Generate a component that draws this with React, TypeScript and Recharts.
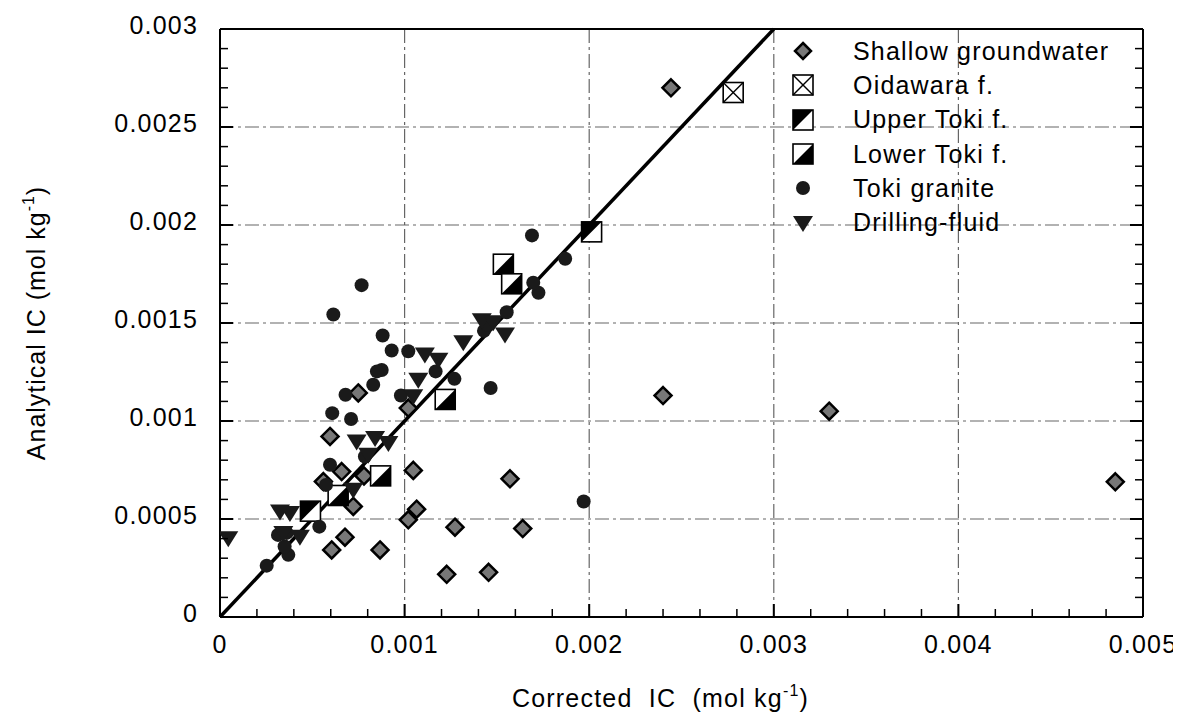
import React from 'react';
import { ScatterChart, Scatter, XAxis, YAxis, CartesianGrid, ReferenceLine, Legend } from 'recharts';

// ---------- data ----------
const seriesNames = [
  'Shallow groundwater',
  'Oidawara f.',
  'Upper Toki f.',
  'Lower Toki f.',
  'Toki granite',
  'Drilling-fluid',
];

const shallowGroundwater = [
  { x: 0.000749, y: 0.001143 }, { x: 0.000596, y: 0.000921 }, { x: 0.00102, y: 0.001066 },
  { x: 0.000659, y: 0.000742 }, { x: 0.00056, y: 0.000691 }, { x: 0.000722, y: 0.000564 },
  { x: 0.001047, y: 0.000748 }, { x: 0.001065, y: 0.00055 }, { x: 0.00102, y: 0.000496 },
  { x: 0.000677, y: 0.000407 }, { x: 0.000605, y: 0.000342 }, { x: 0.000867, y: 0.000342 },
  { x: 0.001273, y: 0.000458 }, { x: 0.001571, y: 0.000705 }, { x: 0.00164, y: 0.000451 },
  { x: 0.001228, y: 0.000218 }, { x: 0.001455, y: 0.000228 }, { x: 0.00078, y: 0.00072 },
  { x: 0.0024, y: 0.00113 }, { x: 0.0033, y: 0.00105 }, { x: 0.002443, y: 0.0027 },
  { x: 0.00485, y: 0.00069 },
];

const oidawara = [{ x: 0.00278, y: 0.002676 }];

const upperToki = [{ x: 0.002013, y: 0.001965 }, { x: 0.00049, y: 0.00054 }];

const lowerToki = [
  { x: 0.001535, y: 0.0018 }, { x: 0.00158, y: 0.0017 }, { x: 0.00122, y: 0.00111 },
  { x: 0.00087, y: 0.00072 }, { x: 0.00064, y: 0.00062 },
];

const tokiGranite = [
  { x: 0.000614, y: 0.001543 }, { x: 0.000767, y: 0.001693 }, { x: 0.00169, y: 0.001947 },
  { x: 0.001725, y: 0.001654 }, { x: 0.001697, y: 0.001705 }, { x: 0.00187, y: 0.001828 },
  { x: 0.000881, y: 0.001436 }, { x: 0.00093, y: 0.00136 }, { x: 0.00102, y: 0.001356 },
  { x: 0.000876, y: 0.00126 }, { x: 0.00085, y: 0.001253 }, { x: 0.00083, y: 0.001185 },
  { x: 0.00068, y: 0.001134 }, { x: 0.001168, y: 0.001253 }, { x: 0.00127, y: 0.001215 },
  { x: 0.001466, y: 0.001168 }, { x: 0.00098, y: 0.00113 }, { x: 0.000608, y: 0.00104 },
  { x: 0.00071, y: 0.00101 }, { x: 0.001553, y: 0.001555 }, { x: 0.00143, y: 0.00146 },
  { x: 0.00145, y: 0.00149 }, { x: 0.00197, y: 0.000589 }, { x: 0.000596, y: 0.000777 },
  { x: 0.000574, y: 0.000674 }, { x: 0.000538, y: 0.000461 }, { x: 0.00037, y: 0.000317 },
  { x: 0.000253, y: 0.000262 }, { x: 0.000314, y: 0.000419 }, { x: 0.000361, y: 0.000429 },
  { x: 0.00035, y: 0.00036 }, { x: 0.000785, y: 0.000819 },
];

const drillingFluid = [
  { x: 0.000045, y: 0.000402 }, { x: 0.000379, y: 0.00053 }, { x: 0.000325, y: 0.000538 },
  { x: 0.000343, y: 0.000428 }, { x: 0.000433, y: 0.00041 }, { x: 0.00074, y: 0.000896 },
  { x: 0.00084, y: 0.000913 }, { x: 0.000912, y: 0.000888 }, { x: 0.000803, y: 0.000828 },
  { x: 0.000722, y: 0.000649 }, { x: 0.00111, y: 0.001339 }, { x: 0.001183, y: 0.001313 },
  { x: 0.001074, y: 0.001211 }, { x: 0.001047, y: 0.001126 }, { x: 0.001318, y: 0.001402 },
  { x: 0.001418, y: 0.001514 }, { x: 0.00148, y: 0.001504 }, { x: 0.001544, y: 0.001441 },
];

const oneToOne = [{ x: 0, y: 0 }, { x: 0.003, y: 0.003 }];

const xMajorTicks = [0, 0.001, 0.002, 0.003, 0.004, 0.005];
const xTickLabels = ['0', '0.001', '0.002', '0.003', '0.004', '0.005'];
const yMajorTicks = [0, 0.0005, 0.001, 0.0015, 0.002, 0.0025, 0.003];
const yTickLabels = ['0', '0.0005', '0.001', '0.0015', '0.002', '0.0025', '0.003'];
const xMinorTicks = [
  0, 0.0002, 0.0004, 0.0006, 0.0008, 0.001, 0.0012, 0.0014, 0.0016, 0.0018, 0.002,
  0.0022, 0.0024, 0.0026, 0.0028, 0.003, 0.0032, 0.0034, 0.0036, 0.0038, 0.004,
  0.0042, 0.0044, 0.0046, 0.0048, 0.005,
];
const yMinorTicks = [
  0, 0.0001, 0.0002, 0.0003, 0.0004, 0.0005, 0.0006, 0.0007, 0.0008, 0.0009, 0.001,
  0.0011, 0.0012, 0.0013, 0.0014, 0.0015, 0.0016, 0.0017, 0.0018, 0.0019, 0.002,
  0.0021, 0.0022, 0.0023, 0.0024, 0.0025, 0.0026, 0.0027, 0.0028, 0.0029, 0.003,
];

// ---------- layout / styles ----------
const CW = 1173;
const CH = 712;
const MARGIN = { top: 20, right: 37, bottom: 102, left: 211 };
const PLOT_H = CH - MARGIN.top - MARGIN.bottom - 2;
const Y_MAX = 0.003;
const FONT = '"Liberation Sans", Arial, Helvetica, sans-serif';
const FS = 25;
const LS = 1.2;
const MAJOR_LEN = 13;
const MINOR_LEN = 8;
// bottom tick lengths expressed in y-data units (so the library's y scale draws them)
const MAJOR_LEN_Y = (MAJOR_LEN * Y_MAX) / PLOT_H;
const MINOR_LEN_Y = (MINOR_LEN * Y_MAX) / PLOT_H;

// ---------- markers ----------
const Diamond = ({ cx, cy, r = 8.5 }: any) => (
  <polygon
    points={`${cx},${cy - r} ${cx + r},${cy} ${cx},${cy + r} ${cx - r},${cy}`}
    fill="#777"
    stroke="#000"
    strokeWidth={2.5}
  />
);
const XSquare = ({ cx, cy, s = 10 }: any) => (
  <g>
    <rect x={cx - s} y={cy - s} width={2 * s} height={2 * s} fill="#fff" stroke="#000" strokeWidth={1.6} />
    <line x1={cx - s} y1={cy - s} x2={cx + s} y2={cy + s} stroke="#000" strokeWidth={1.4} />
    <line x1={cx - s} y1={cy + s} x2={cx + s} y2={cy - s} stroke="#000" strokeWidth={1.4} />
  </g>
);
const UpperSquare = ({ cx, cy, s = 10 }: any) => (
  <g>
    <rect x={cx - s} y={cy - s} width={2 * s} height={2 * s} fill="#fff" stroke="#000" strokeWidth={1.6} />
    <polygon points={`${cx - s},${cy - s} ${cx + s},${cy - s} ${cx - s},${cy + s}`} fill="#000" />
  </g>
);
const LowerSquare = ({ cx, cy, s = 10 }: any) => (
  <g>
    <rect x={cx - s} y={cy - s} width={2 * s} height={2 * s} fill="#fff" stroke="#000" strokeWidth={1.6} />
    <polygon points={`${cx + s},${cy - s} ${cx + s},${cy + s} ${cx - s},${cy + s}`} fill="#000" />
  </g>
);
const Dot = ({ cx, cy, r = 7 }: any) => <circle cx={cx} cy={cy} r={r} fill="#1a1a1a" />;
const DownTri = ({ cx, cy, w = 10 }: any) => (
  <polygon points={`${cx - w},${cy - 7} ${cx + w},${cy - 7} ${cx},${cy + 9}`} fill="#1a1a1a" />
);

const markerFns = [
  (p: any) => <Diamond {...p} />,
  (p: any) => <XSquare {...p} />,
  (p: any) => <UpperSquare {...p} />,
  (p: any) => <LowerSquare {...p} />,
  (p: any) => <Dot {...p} />,
  (p: any) => <DownTri {...p} />,
];

const majorIndex = (list: number[], v: number) => list.findIndex((t) => Math.abs(t - v) < 1e-9);

// ---------- ticks ----------
const TopTick = (props: any) => {
  const { x, y, payload } = props;
  const i = majorIndex(xMajorTicks, payload.value);
  const len = i >= 0 ? MAJOR_LEN : MINOR_LEN;
  return <line x1={x} y1={y} x2={x} y2={y + len} stroke="#000" strokeWidth={i >= 0 ? 2 : 1.5} />;
};
const LeftTick = (props: any) => {
  const { x, y, payload } = props;
  const i = majorIndex(yMajorTicks, payload.value);
  const len = i >= 0 ? MAJOR_LEN : MINOR_LEN;
  return (
    <g>
      <line x1={x} y1={y} x2={x + len} y2={y} stroke="#000" strokeWidth={i >= 0 ? 2 : 1.5} />
      {i >= 0 && (
        <text x={x - 22} y={y + 5} textAnchor="end" fontFamily={FONT} fontSize={FS} letterSpacing={LS} fill="#000">
          {yTickLabels[i]}
        </text>
      )}
    </g>
  );
};
const RightTick = (props: any) => {
  const { x, y, payload } = props;
  const i = majorIndex(yMajorTicks, payload.value);
  const len = i >= 0 ? MAJOR_LEN : MINOR_LEN;
  return <line x1={x} y1={y} x2={x - len} y2={y} stroke="#000" strokeWidth={i >= 0 ? 2 : 1.5} />;
};

// x tick label, hung below a bottom tick segment
const XTickLabel = (props: any) => {
  const vb = props.viewBox || {};
  const bottom = (vb.y || 0) + (vb.height || 0);
  return (
    <text x={vb.x} y={bottom + 36} textAnchor="middle" fontFamily={FONT} fontSize={FS} letterSpacing={LS} fill="#000">
      {props.text}
    </text>
  );
};

// X-axis title, attached to the top frame axis (positioned below the plot)
const XTitle = (props: any) => {
  const vb = props.viewBox;
  const cx = vb.x + vb.width / 2 - 21;
  const y = vb.y + vb.height + PLOT_H + 90;
  return (
    <text x={cx} y={y} textAnchor="middle" fontFamily={FONT} fontSize={FS} letterSpacing={LS} fill="#000">
      Corrected{'\u00a0\u00a0'}IC{'\u00a0\u00a0'}(mol kg
      <tspan dy={-11} fontSize={16}>-1</tspan>
      <tspan dy={11}>)</tspan>
    </text>
  );
};
const YTitle = (props: any) => {
  const vb = props.viewBox;
  const x = vb.x + vb.width - 175;
  const cy = vb.y + vb.height / 2;
  return (
    <text
      x={x}
      y={cy}
      textAnchor="middle"
      transform={`rotate(-90 ${x} ${cy})`}
      fontFamily={FONT}
      fontSize={FS}
      letterSpacing={1}
      fill="#000"
    >
      Analytical IC (mol kg
      <tspan dy={-11} fontSize={16}>-1</tspan>
      <tspan dy={11}>)</tspan>
    </text>
  );
};

const LegendContent = () => (
  <div style={{ fontFamily: FONT, fontSize: FS, letterSpacing: LS, color: '#000' }}>
    {seriesNames.map((name, i) => (
      <div key={name} style={{ display: 'flex', alignItems: 'center', height: 34.3 }}>
        <svg width={24} height={24} style={{ display: 'block', flex: 'none' }}>
          {markerFns[i](i === 0 ? { cx: 12, cy: 12, r: 8 } : { cx: 12, cy: 12 })}
        </svg>
        <span style={{ marginLeft: 38, lineHeight: 1, whiteSpace: 'nowrap' }}>{name}</span>
      </div>
    ))}
  </div>
);

const seriesData = [shallowGroundwater, oidawara, upperToki, lowerToki, tokiGranite, drillingFluid];

const axisLine = { stroke: '#000', strokeWidth: 2 };

export default function App() {
  return (
    <ScatterChart width={CW} height={CH} margin={MARGIN} style={{ background: '#fff' }}>
      <CartesianGrid
        xAxisId={0}
        yAxisId={0}
        stroke="#666"
        strokeWidth={1.2}
        strokeDasharray="14 4 3 4"
      />
      {/* visible frame axes */}
      <XAxis
        xAxisId="bottomFrame"
        type="number"
        domain={[0, 0.005]}
        allowDataOverflow
        ticks={xMajorTicks}
        interval={0}
        orientation="bottom"
        height={1}
        tick={false}
        tickLine={false}
        axisLine={axisLine}
      />
      <XAxis
        xAxisId="topFrame"
        type="number"
        domain={[0, 0.005]}
        allowDataOverflow
        ticks={xMinorTicks}
        interval={0}
        orientation="top"
        height={1}
        tickSize={0}
        tickMargin={0}
        tick={<TopTick />}
        tickLine={false}
        axisLine={axisLine}
        label={<XTitle />}
      />
      <YAxis
        yAxisId="leftFrame"
        type="number"
        domain={[0, 0.003]}
        allowDataOverflow
        ticks={yMinorTicks}
        interval={0}
        orientation="left"
        width={1}
        tickSize={0}
        tickMargin={0}
        tick={<LeftTick />}
        tickLine={false}
        axisLine={axisLine}
        label={<YTitle />}
      />
      <YAxis
        yAxisId="rightFrame"
        type="number"
        domain={[0, 0.003]}
        allowDataOverflow
        ticks={yMinorTicks}
        interval={0}
        orientation="right"
        width={1}
        tickSize={0}
        tickMargin={0}
        tick={<RightTick />}
        tickLine={false}
        axisLine={axisLine}
      />
      {/* hidden data axes (major ticks drive the grid) */}
      <XAxis
        xAxisId={0}
        type="number"
        dataKey="x"
        domain={[0, 0.005]}
        allowDataOverflow
        ticks={xMajorTicks}
        interval={0}
        height={0}
        hide
      />
      <YAxis
        yAxisId={0}
        type="number"
        dataKey="y"
        domain={[0, 0.003]}
        allowDataOverflow
        ticks={yMajorTicks}
        interval={0}
        width={0}
        hide
      />
      {/* bottom tick marks and x tick labels */}
      {xMinorTicks.map((v) => {
        const i = majorIndex(xMajorTicks, v);
        const major = i >= 0;
        return (
          <ReferenceLine
            key={`bt-${v}`}
            xAxisId={0}
            yAxisId={0}
            segment={[{ x: v, y: 0 }, { x: v, y: major ? MAJOR_LEN_Y : MINOR_LEN_Y }]}
            stroke="#000"
            strokeWidth={major ? 2 : 1.5}
            ifOverflow="visible"
            label={major ? <XTickLabel text={xTickLabels[i]} /> : undefined}
          />
        );
      })}
      <ReferenceLine
        xAxisId={0}
        yAxisId={0}
        segment={oneToOne}
        stroke="#000"
        strokeWidth={3.5}
        ifOverflow="visible"
      />
      {seriesData.map((data, i) => (
        <Scatter
          key={seriesNames[i]}
          name={seriesNames[i]}
          data={data}
          xAxisId={0}
          yAxisId={0}
          isAnimationActive={false}
          shape={(p: any) => markerFns[i]({ cx: p.cx, cy: p.cy })}
        />
      ))}
      <Legend
        layout="vertical"
        align="center"
        verticalAlign="middle"
        content={<LegendContent />}
        wrapperStyle={{ left: 783, top: 26, width: 380, height: 210, margin: 0 }}
      />
    </ScatterChart>
  );
}
